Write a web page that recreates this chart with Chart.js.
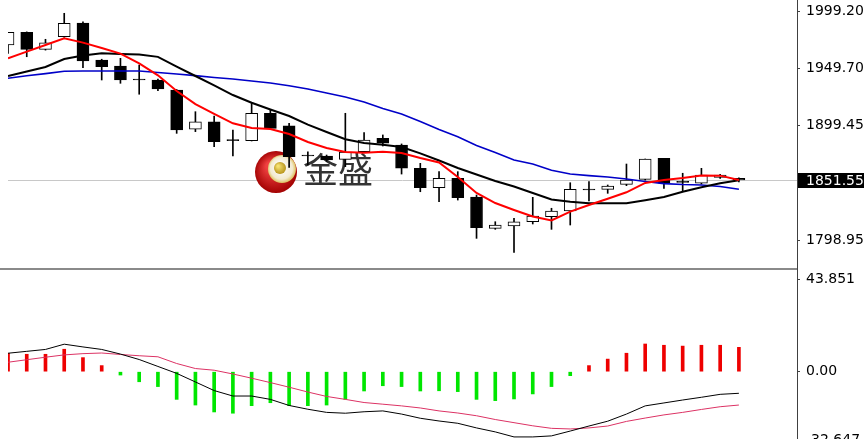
<!DOCTYPE html>
<html>
<head>
<meta charset="utf-8">
<script src="https://cdn.jsdelivr.net/npm/chart.js@4.4.0/dist/chart.umd.min.js"></script>
<style>
  html, body { margin:0; padding:0; background:#fff; overflow:hidden; }
  #wrap { position:relative; width:864px; height:439px; overflow:hidden; }
  #top { position:absolute; left:0; top:0; }
  #bot { position:absolute; left:0; top:270px; }
  #sep { position:absolute; left:0; top:268px; width:797px; height:2px; background:#8a8a8a; }
  #axis { position:absolute; left:797px; top:0; width:1px; height:439px; background:#404040; }
</style>
</head>
<body>
<div id="wrap">
  <div id="axis"></div>
  <div id="sep"></div>
  <canvas id="top" width="864" height="268"></canvas>
  <canvas id="bot" width="864" height="177"></canvas>
</div>
<script>
// ////// candle data //////
const openP  = [1970.0, 1981.1, 1966.2, 1977.3, 1989.2, 1956.8, 1951.6, 1939.3, 1939.3, 1930.5, 1896.1, 1902.7, 1886.1, 1886.1, 1910.1, 1899.0, 1872.6, 1872.6, 1869.7, 1876.4, 1888.2, 1882.3, 1861.9, 1844.8, 1853.1, 1836.5, 1809.2, 1811.2, 1815.0, 1819.4, 1824.4, 1842.8, 1843.4, 1847.8, 1852.2, 1870.6, 1849.5, 1848.7, 1853.9, 1853.0];
const highP  = [1981.1, 1981.5, 1975.0, 1997.8, 1990.4, 1957.5, 1958.3, 1952.4, 1940.0, 1931.0, 1911.5, 1907.7, 1895.4, 1918.9, 1913.0, 1901.3, 1876.4, 1873.5, 1910.1, 1893.1, 1891.1, 1883.2, 1866.2, 1858.9, 1858.9, 1838.4, 1815.0, 1818.0, 1836.4, 1826.8, 1849.2, 1850.1, 1847.2, 1865.6, 1870.0, 1870.6, 1857.5, 1861.8, 1856.5, 1853.5];
const lowP   = [1962.7, 1959.7, 1965.5, 1976.8, 1950.1, 1939.3, 1936.4, 1926.8, 1930.0, 1892.5, 1894.0, 1880.8, 1872.6, 1885.8, 1896.0, 1862.7, 1864.8, 1868.0, 1863.3, 1875.5, 1881.4, 1856.8, 1841.3, 1832.5, 1834.0, 1800.4, 1808.3, 1788.1, 1813.0, 1808.3, 1812.1, 1833.2, 1839.9, 1846.6, 1851.5, 1844.3, 1841.3, 1848.0, 1853.0, 1850.0];
const closeP = [1981.1, 1966.2, 1972.0, 1989.0, 1956.0, 1951.0, 1939.3, 1939.3, 1931.4, 1895.4, 1902.7, 1885.2, 1886.1, 1910.1, 1896.9, 1872.0, 1872.6, 1869.1, 1876.1, 1886.7, 1883.8, 1861.9, 1844.8, 1853.1, 1836.1, 1809.8, 1812.1, 1815.0, 1820.0, 1824.4, 1843.4, 1842.8, 1846.3, 1851.6, 1870.0, 1848.7, 1849.5, 1855.9, 1855.9, 1851.55];

// moving averages: red (fast), black (mid), blue (slow)
const maRed   = [1958.3, 1964.2, 1970.0, 1975.9, 1972.1, 1967.4, 1962.4, 1953.9, 1943.4, 1929.6, 1918.2, 1909.6, 1901.3, 1897.2, 1896.3, 1891.9, 1884.9, 1879.7, 1876.1, 1875.5, 1876.4, 1875.3, 1870.9, 1866.9, 1854.2, 1840.2, 1831.4, 1825.3, 1819.6, 1816.1, 1823.8, 1829.7, 1835.2, 1840.8, 1849.0, 1851.6, 1853.3, 1855.5, 1855.4, 1851.6];
const maBlack = [1942.8, 1946.8, 1950.7, 1957.7, 1960.8, 1962.7, 1962.1, 1961.7, 1959.6, 1951.1, 1942.8, 1934.5, 1926.1, 1919.3, 1913.4, 1907.7, 1900.1, 1893.7, 1887.3, 1884.0, 1882.5, 1880.5, 1874.9, 1868.7, 1862.1, 1856.4, 1850.7, 1845.9, 1840.2, 1834.5, 1832.5, 1831.1, 1831.1, 1831.1, 1833.8, 1836.7, 1841.3, 1845.3, 1848.7, 1851.3];
const maBlue  = [1940.8, 1943.0, 1944.9, 1947.0, 1947.2, 1947.2, 1947.2, 1947.2, 1945.9, 1944.6, 1943.1, 1941.5, 1940.2, 1938.4, 1936.7, 1934.3, 1931.4, 1927.9, 1924.4, 1920.0, 1914.3, 1909.5, 1902.9, 1895.9, 1889.5, 1881.9, 1875.7, 1869.1, 1865.6, 1860.1, 1856.8, 1855.4, 1854.2, 1852.5, 1850.3, 1848.4, 1847.6, 1847.2, 1845.9, 1843.4];

// ////// MACD pane //////
const macdHist = [8.8, 8.3, 8.3, 10.7, 6.7, 2.9, -1.6, -4.8, -7.1, -13.2, -15.9, -19.2, -19.8, -16.2, -14.8, -16.2, -16.2, -15.9, -13.2, -9.2, -6.7, -7.1, -9.2, -9.1, -9.5, -13.2, -13.8, -13.0, -10.6, -7.1, -1.9, 2.9, 6.0, 8.8, 13.2, 12.6, 12.2, 12.6, 12.6, 11.6];
const macdLine = [8.8, 9.7, 10.6, 13.1, 11.8, 10.6, 8.4, 5.8, 2.5, -0.8, -4.9, -9.0, -11.6, -11.6, -13.2, -16.1, -17.9, -19.4, -19.8, -19.1, -18.7, -20.2, -22.2, -23.5, -24.6, -26.8, -28.7, -31.1, -31.1, -30.6, -28.3, -25.9, -23.6, -20.2, -16.3, -14.9, -13.5, -12.2, -10.8, -10.3];
const signalLine = [4.5, 5.7, 6.9, 8.0, 8.6, 8.9, 8.2, 7.6, 7.1, 3.9, 1.5, 0.7, -1.1, -3.1, -5.2, -7.4, -9.7, -11.8, -13.2, -14.7, -15.5, -16.3, -17.3, -18.7, -19.7, -21.0, -22.8, -24.3, -25.8, -27.0, -27.3, -26.8, -25.9, -23.7, -22.1, -20.6, -19.4, -18.0, -16.7, -15.9];

// ////// axis labels //////
const priceTicks = [1999.20, 1949.70, 1899.45, 1798.95];
const priceTickLabels = ['1999.20', '1949.70', '1899.45', '1798.95'];
const lastPrice = 1851.55;
const lastPriceLabel = '1851.55';
const macdTicks = [43.851, 0, -32.647];
const macdTickLabels = ['43.851', '0.00', '-32.647'];

Chart.defaults.font.family = '"DejaVu Sans", Verdana, sans-serif';
Chart.defaults.font.size = 14;
Chart.defaults.color = '#000';

const xMax = 42.1;   // visible slots to the right axis

function xScale() {
    return { type: 'linear', min: 0, max: xMax, offset: false, display: false };
}

function yAxis(min, max, ticks, labels) {
    return {
        position: 'right',
        min: min,
        max: max,
        afterBuildTicks: function(scale) {
            scale.ticks = ticks.map(function(v){ return { value: v }; });
        },
        afterFit: function(scale) {
            scale.width = 67;
            scale.paddingTop = 0;
            scale.paddingBottom = 0;
        },
        border: { display: false },
        grid: { drawOnChartArea: false, drawTicks: true, tickLength: 3, color: '#404040' },
        ticks: {
            autoSkip: false,
            padding: 6,
            align: 'center',
            callback: function(value) {
                const k = ticks.indexOf(value);
                return k >= 0 ? labels[k] : '';
            }
        }
    };
}

const idx = closeP.map(function(_, i){ return i; });

////////// price pane extras: logo, price line, price box //////////
const pricePlugin = {
    id: 'priceExtras',
    beforeDatasetsDraw: function(chart) {
        const ctx = chart.ctx;
        const y = chart.scales.y.getPixelForValue(lastPrice);
        const area = chart.chartArea;
        ctx.save();
        // current price line
        ctx.strokeStyle = '#c8c8c8';
        ctx.lineWidth = 1;
        ctx.beginPath();
        ctx.moveTo(area.left, Math.round(y) + 0.5);
        ctx.lineTo(area.right, Math.round(y) + 0.5);
        ctx.stroke();

        // logo
        const cx = 276, cy = 172;
        let g = ctx.createRadialGradient(cx - 6, cy - 6, 4, cx, cy, 22);
        g.addColorStop(0, '#f04040');
        g.addColorStop(1, '#a00000');
        ctx.fillStyle = g;
        ctx.beginPath(); ctx.arc(cx, cy, 21, 0, Math.PI * 2); ctx.fill();
        g = ctx.createRadialGradient(cx + 4, cy - 6, 2, cx + 6, cy - 3, 15);
        g.addColorStop(0, '#ffffff');
        g.addColorStop(0.7, '#f2ead0');
        g.addColorStop(1, '#d8b840');
        ctx.fillStyle = g;
        ctx.beginPath(); ctx.arc(cx + 6, cy - 3, 14, 0, Math.PI * 2); ctx.fill();
        g = ctx.createRadialGradient(cx + 2, cy - 6, 1, cx + 4, cy - 4, 7);
        g.addColorStop(0, '#f4e070');
        g.addColorStop(1, '#b08a10');
        ctx.fillStyle = g;
        ctx.beginPath(); ctx.arc(cx + 4, cy - 4, 6, 0, Math.PI * 2); ctx.fill();

        // brand text
        ctx.fillStyle = '#333';
        ctx.font = '35px "Noto Sans CJK SC"';
        ctx.textBaseline = 'middle';
        ctx.textAlign = 'left';
        ctx.fillText('金盛', 303, 170);
        ctx.restore();
    },
    afterDraw: function(chart) {
        const ctx = chart.ctx;
        const y = chart.scales.y.getPixelForValue(lastPrice);
        ctx.save();
        ctx.fillStyle = '#000';
        ctx.fillRect(798, Math.round(y) - 7, 66, 15);
        ctx.fillStyle = '#fff';
        ctx.font = '14px "DejaVu Sans"';
        ctx.textBaseline = 'middle';
        ctx.textAlign = 'left';
        ctx.fillText(lastPriceLabel, 806, Math.round(y) + 1);
        ctx.restore();
    }
};

new Chart(document.getElementById('top'), {
    type: 'bar',
    data: {
        datasets: [
            {
                type: 'line', label: 'MA red', order: 0,
                data: idx.map(function(i){ return { x: i, y: maRed[i] }; }),
                borderColor: '#ff0000', borderWidth: 2, pointRadius: 0, tension: 0, fill: false
            },
            {
                type: 'line', label: 'MA black', order: 0,
                data: idx.map(function(i){ return { x: i, y: maBlack[i] }; }),
                borderColor: '#000000', borderWidth: 2, pointRadius: 0, tension: 0, fill: false
            },
            {
                type: 'line', label: 'MA blue', order: 0,
                data: idx.map(function(i){ return { x: i, y: maBlue[i] }; }),
                borderColor: '#0000c8', borderWidth: 1.6, pointRadius: 0, tension: 0, fill: false
            },
            {
                label: 'body', order: 1, grouped: false,
                data: idx.map(function(i){ return { x: i, y: [openP[i], closeP[i]] }; }),
                backgroundColor: idx.map(function(i){ return closeP[i] > openP[i] ? '#ffffff' : '#000000'; }),
                borderColor: '#000', borderWidth: 1, borderSkipped: false,
                barThickness: 12, minBarLength: 1
            },
            {
                label: 'wick', order: 2, grouped: false,
                data: idx.map(function(i){ return { x: i, y: [lowP[i], highP[i]] }; }),
                backgroundColor: '#000', borderWidth: 0, barThickness: 1
            }
        ]
    },
    options: {
        responsive: false,
        animation: false,
        layout: { padding: { left: 8, right: 0, top: 0, bottom: 0 } },
        plugins: { legend: { display: false }, tooltip: { enabled: false } },
        scales: {
            x: xScale(),
            y: yAxis(1774.4, 2009.46, priceTicks, priceTickLabels)
        }
    },
    plugins: [pricePlugin]
});

new Chart(document.getElementById('bot'), {
    type: 'bar',
    data: {
        datasets: [
            {
                type: 'line', label: 'MACD', order: 0,
                data: idx.map(function(i){ return { x: i, y: macdLine[i] }; }),
                borderColor: '#000000', borderWidth: 1, pointRadius: 0, tension: 0, fill: false
            },
            {
                type: 'line', label: 'Signal', order: 0,
                data: idx.map(function(i){ return { x: i, y: signalLine[i] }; }),
                borderColor: '#dc3264', borderWidth: 1, pointRadius: 0, tension: 0, fill: false
            },
            {
                label: 'Hist', order: 1,
                data: idx.map(function(i){ return { x: i, y: macdHist[i] }; }),
                backgroundColor: macdHist.map(function(v){ return v >= 0 ? '#ee0000' : '#00e600'; }),
                borderWidth: 0, barThickness: 3
            }
        ]
    },
    options: {
        responsive: false,
        animation: false,
        layout: { padding: { left: 8, right: 0, top: 0, bottom: 0 } },
        plugins: { legend: { display: false }, tooltip: { enabled: false } },
        scales: {
            x: xScale(),
            y: yAxis(-35.9, 48.47, macdTicks, macdTickLabels)
        }
    }
});
</script>
</body>
</html>
